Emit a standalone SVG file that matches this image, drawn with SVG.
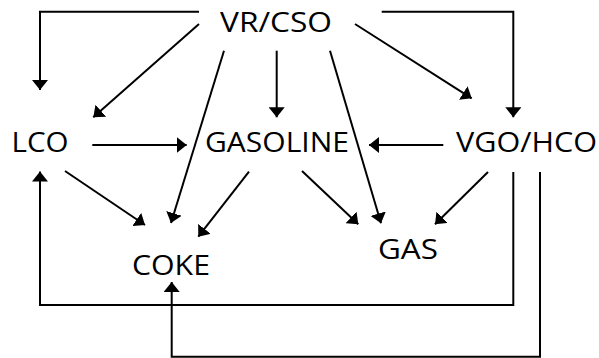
<svg xmlns="http://www.w3.org/2000/svg" width="599" height="358" viewBox="0 0 599 358">
<style>
  .lbl { font-family: "Open Sans", "Liberation Sans", sans-serif; font-size: 27.5px; fill: #000; }
  .c { fill: none; stroke: #000; stroke-width: 2; marker-end: url(#ah); }
</style>
<defs>
  <marker id="ah" markerUnits="userSpaceOnUse" viewBox="0 0 10 16" markerWidth="10" markerHeight="16" refX="10" refY="8" orient="auto">
    <path d="M0,0 L10,8 L0,16 Z" fill="#000"/>
  </marker>
</defs>
<rect width="599" height="358" fill="#fff"/>
<g id="connectors">
  <path class="c" d="M199,11.7 H40 V90"/>
  <path class="c" d="M199,24 L93.3,117.3"/>
  <path class="c" d="M224,50.7 L171,223"/>
  <path class="c" d="M276.7,50.7 V117.3"/>
  <path class="c" d="M92.3,145 H186.7"/>
  <path class="c" d="M381.7,11.7 H513.3 V117.3"/>
  <path class="c" d="M355,24 L471.7,98.3"/>
  <path class="c" d="M330,50.7 L381,223.3"/>
  <path class="c" d="M443.3,145 H369"/>
  <path class="c" d="M65,171 L145,225"/>
  <path class="c" d="M249,171.7 L198.3,236.7"/>
  <path class="c" d="M513.3,172 V305 H40 V171.5"/>
  <path class="c" d="M540,172 V356.7 H171.7 V282"/>
  <path class="c" d="M302,171 L358.3,224.3"/>
  <path class="c" d="M488,172 L435,224.3"/>
</g>
<g id="node-vrcso"><text class="lbl" x="220" y="32" textLength="112" lengthAdjust="spacingAndGlyphs">VR/CSO</text></g>
<g id="node-lco"><text class="lbl" x="11.5" y="152" textLength="57" lengthAdjust="spacingAndGlyphs">LCO</text></g>
<g id="node-gasoline"><text class="lbl" x="205" y="152" textLength="144" lengthAdjust="spacingAndGlyphs">GASOLINE</text></g>
<g id="node-vgohco"><text class="lbl" x="456" y="152" textLength="141" lengthAdjust="spacingAndGlyphs">VGO/HCO</text></g>
<g id="node-coke"><text class="lbl" x="132" y="274.5" textLength="78" lengthAdjust="spacingAndGlyphs">COKE</text></g>
<g id="node-gas"><text class="lbl" x="378" y="258.5" textLength="60" lengthAdjust="spacingAndGlyphs">GAS</text></g>
</svg>
